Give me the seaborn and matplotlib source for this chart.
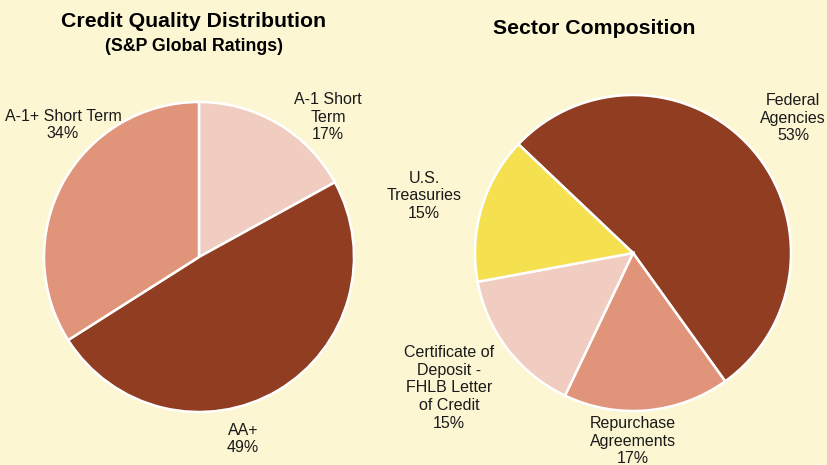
import matplotlib
matplotlib.use("Agg")
import matplotlib.pyplot as plt
import seaborn as sns

# --- data ---
credit_labels = ["A-1 Short\nTerm", "AA+", "A-1+ Short Term"]
credit_values = [17, 49, 34]
sector_labels = ["Federal\nAgencies", "Repurchase\nAgreements",
                 "Certificate of\nDeposit -\nFHLB Letter\nof Credit", "U.S.\nTreasuries"]
sector_values = [53, 17, 15, 15]

BG = "#FDF6D3"
DARK = "#913D22"
SALMON = "#E0957A"
PINK = "#F1CCC0"
YELLOW = "#F5E04F"

sns.set_theme(style="white")
plt.rcParams["font.family"] = ["Liberation Sans", "DejaVu Sans"]

fig = plt.figure(figsize=(8.27, 4.65), dpi=100, facecolor=BG)
ax = fig.add_axes([0, 0, 1, 1])
ax.set_facecolor(BG)

H = 465
wedge_style = dict(edgecolor="white", linewidth=1.8)

# left pie: credit quality
ax.pie(credit_values, colors=[PINK, DARK, SALMON], startangle=90, counterclock=False,
       center=(199, H - 257), radius=155, wedgeprops=wedge_style, frame=True)
# right pie: sector composition
ax.pie(sector_values, colors=[DARK, SALMON, PINK, YELLOW], startangle=136.5, counterclock=False,
       center=(633, H - 253), radius=158, wedgeprops=wedge_style, frame=True)
ax.set_xlim(0, 827)
ax.set_ylim(0, 465)
ax.set_aspect("equal")
ax.axis("off")

# label positions (pixel centres from the reference)
credit_pos = [(328, 117), (243, 439), (63, 125)]
sector_pos = [(793, 118), (633, 441), (449, 388), (424, 196)]

txt = dict(fontsize=11.5, color="#1a1a1a", ha="center", va="center", linespacing=1.23)
for lab, val, (x, y) in zip(credit_labels, credit_values, credit_pos):
    ax.text(x, H - y, f"{lab}\n{val}%", **txt)
for lab, val, (x, y) in zip(sector_labels, sector_values, sector_pos):
    ax.text(x, H - y, f"{lab}\n{val}%", **txt)

# titles
ax.text(194, H - 22, "Credit Quality Distribution", fontsize=15.3, fontweight="bold",
        ha="center", va="center", color="black")
ax.text(194, H - 47, "(S&P Global Ratings)", fontsize=12.8, fontweight="bold",
        ha="center", va="center", color="black")
ax.text(594, H - 29, "Sector Composition", fontsize=15.3, fontweight="bold",
        ha="center", va="center", color="black")

fig.savefig("out.png", dpi=100, facecolor=BG)
